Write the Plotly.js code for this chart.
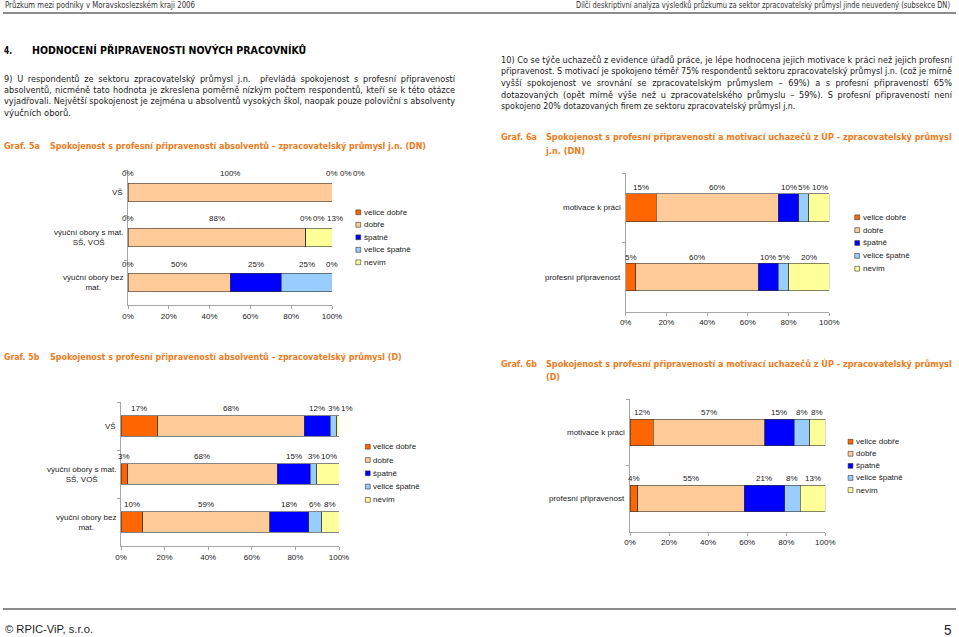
<!DOCTYPE html>
<html><head><meta charset="utf-8">
<script src="https://cdn.plot.ly/plotly-3.0.1.min.js"></script>
<style>
html,body{margin:0;padding:0;background:#fff;width:959px;height:637px;overflow:hidden;}
#chart{position:absolute;left:0;top:0;width:959px;height:637px;}
.ln{position:absolute;white-space:pre;transform-origin:0 50%;font-family:"DejaVu Sans",Verdana,sans-serif;color:#1a1a1a;z-index:2;}
.rule{position:absolute;left:3px;width:953px;height:2px;background:#8c8c8c;z-index:2;}
</style></head><body>
<div id="chart"></div>
<div class="rule" style="top:12px"></div>
<div class="rule" style="top:608px"></div>
<script>
// ---------- DATA ----------
const seriesNames = ['velice dobře','dobře','špatně','velice špatně','nevím'];
const seriesColors = ['#FF6600','#FFCC99','#0000FF','#99CCFF','#FFFF99'];
const catsSchool = ['VŠ','výuční obory s mat.<br>SŠ, VOŠ','výuční obory bez<br>mat.'];
const catsUP = ['motivace k práci','profesní připravenost'];
// rows = series (velice dobře, dobře, špatně, velice špatně, nevím), columns = categories
const g5a_values = [[0,0,0],[100,88,50],[0,0,25],[0,0,25],[0,13,0]];
const g5b_values = [[17,3,10],[68,68,59],[12,15,18],[3,3,6],[1,10,8]];
const g6a_values = [[15,5],[60,60],[10,10],[5,5],[10,20]];
const g6b_values = [[12,4],[57,55],[15,21],[8,8],[8,13]];
const xTickVals = [0,20,40,60,80,100];
const xTickText = ['0%','20%','40%','60%','80%','100%'];

// ---------- LAYOUT ----------
const W=959,H=637;
const FONT='"Liberation Sans", Arial, sans-serif';
const charts=[
 {vals:g5a_values,cats:catsSchool,px:[128,332],py:[170,305],bw:0.42,lbl:18.5,leg:{x:358.3,y:212.3,dy:12.5}},
 {vals:g5b_values,cats:catsSchool,px:[121,339],py:[402,546],bw:0.42,lbl:18,leg:{x:367.8,y:446.7,dy:13.3}},
 {vals:g6a_values,cats:catsUP,px:[625.7,829.3],py:[173,311.7],bw:0.40,lbl:20,leg:{x:857.2,y:217.3,dy:12.85}},
 {vals:g6b_values,cats:catsUP,px:[630,825.3],py:[399.3,531.7],bw:0.40,lbl:19.7,leg:{x:850.5,y:441.7,dy:12.08}}
];
const traces=[];
const layout={width:W,height:H,margin:{l:0,r:0,t:0,b:0},paper_bgcolor:'rgba(0,0,0,0)',plot_bgcolor:'rgba(0,0,0,0)',
  barmode:'stack',barnorm:'percent',showlegend:false,hovermode:false,annotations:[],shapes:[]};
function txtW(t){let w=0;for(const ch of t){w+= ch==='%'?0.889:0.556;}return w*8;}
charts.forEach((c,k)=>{
  const suf=k===0?'':String(k+1);
  const [px0,px1]=c.px,[py0,py1]=c.py;
  c.vals.forEach((row,si)=>{
    traces.push({type:'bar',orientation:'h',x:row,y:c.cats,name:seriesNames[si],xaxis:'x'+suf,yaxis:'y'+suf,
      width:c.bw,marker:{color:seriesColors[si],line:{color:'#333',width:0.6}},hoverinfo:'skip'});
  });
  layout['xaxis'+suf]={domain:[px0/W,px1/W],anchor:'y'+suf,range:[0,100],tickmode:'array',tickvals:xTickVals,ticktext:xTickText,
    showgrid:false,zeroline:false,showline:true,linecolor:'#a6a6a6',linewidth:1,ticks:'outside',ticklen:3,
    tickcolor:'#a6a6a6',tickfont:{family:FONT,size:8,color:'#222'},fixedrange:true};
  layout['yaxis'+suf]={domain:[1-py1/H,1-py0/H],anchor:'x'+suf,type:'category',categoryorder:'array',
    categoryarray:c.cats,range:[c.cats.length-0.5,-0.5],showticklabels:false,showline:true,linecolor:'#a6a6a6',
    ticks:'outside',tickson:'boundaries',ticklen:3,tickcolor:'#a6a6a6',showgrid:false,zeroline:false,fixedrange:true};
  // category labels
  c.cats.forEach(cat=>{
    layout.annotations.push({xref:'paper',yref:'y'+suf,x:(px0-3)/W,y:cat,text:cat,showarrow:false,
      xanchor:'right',yanchor:'middle',align:'center',font:{family:FONT,size:8,color:'#222'}});
  });
  // value labels above segments
  c.cats.forEach((cat,ci)=>{
    const raw=c.vals.map(r=>r[ci]);const tot=raw.reduce((a,b)=>a+b,0);
    let cum=0,prev=null;
    raw.forEach(v=>{
      const n=v/tot*100;const mid=cum+n/2;cum+=n;
      const t=v+'%';const w=txtW(t);
      let xp=px0+mid/100*(px1-px0);
      if(prev){const mn=prev.xp+(prev.w+w)/2+2;if(xp<mn)xp=mn;}
      prev={xp,w};
      layout.annotations.push({xref:'paper',yref:'y'+suf,x:xp/W,y:cat,text:t,showarrow:false,yshift:c.lbl,
        xanchor:'center',yanchor:'middle',font:{family:FONT,size:8,color:'#222'}});
    });
  });
  // legend
  seriesNames.forEach((nm,si)=>{
    const yc=c.leg.y+si*c.leg.dy;
    layout.shapes.push({type:'rect',xref:'paper',yref:'paper',x0:(c.leg.x-2.4)/W,x1:(c.leg.x+2.4)/W,
      y0:1-(yc+2.4)/H,y1:1-(yc-2.4)/H,fillcolor:seriesColors[si],line:{color:'#333',width:0.6}});
    layout.annotations.push({xref:'paper',yref:'paper',x:(c.leg.x+3.5)/W,y:1-yc/H,text:nm,showarrow:false,
      xanchor:'left',yanchor:'middle',font:{family:FONT,size:8,color:'#222'}});
  });
});
Plotly.newPlot('chart',traces,layout,{staticPlot:true,displayModeBar:false});

// ---------- PAGE TEXT ----------
const ORANGE='#EE7B21';
const styles={
 hdr:{fs:8.5,w:'normal',c:'#333'},
 h1:{fs:11,w:'bold',c:'#000'},
 p:{fs:9.3,w:'normal',c:'#1a1a1a'},
 g:{fs:9.4,w:'bold',c:ORANGE},
 ft:{fs:10,w:'normal',c:'#222',f:'"Liberation Sans Narrow","Liberation Sans",sans-serif'},
 pg:{fs:15,w:'normal',c:'#222',f:'"Liberation Sans Narrow","Liberation Sans",sans-serif'}
};
const lines=[
 ['Průzkum mezi podniky v Moravskoslezském kraji 2006',5,5.5,190,'fit','hdr'],
 ['Dílčí deskriptivní analýza výsledků průzkumu za sektor zpracovatelský průmysl jinde neuvedený (subsekce DN)',576,5.5,374,'fit','hdr'],
 ['4.',4,50.5,8,'fit','h1'],
 ['HODNOCENÍ PŘIPRAVENOSTI NOVÝCH PRACOVNÍKŮ',31.7,50.5,274.3,'fit','h1'],
 ['9) U respondentů ze sektoru zpracovatelský průmysl j.n.  převládá spokojenost s profesní připraveností',4,78.5,451,'just','p'],
 ['absolventů, nicméně tato hodnota je zkreslena poměrně nízkým počtem respondentů, kteří se k této otázce',4,90,451,'just','p'],
 ['vyjadřovali. Největší spokojenost je zejména u absolventů vysokých škol, naopak pouze poloviční s absolventy',4,101.3,451,'just','p'],
 ['výučních oborů.',4,112.7,67,'fit','p'],
 ['Graf. 5a',4,146,36,'fit','g'],
 ['Spokojenost s profesní připraveností absolventů – zpracovatelský průmysl j.n. (DN)',50,146,376,'fit','g'],
 ['10) Co se týče uchazečů z evidence úřadů práce, je lépe hodnocena jejich motivace k práci než jejich profesní',500.7,59.5,451,'just','p'],
 ['připravenost. S motivací je spokojeno téměř 75% respondentů sektoru zpracovatelský průmysl j.n. (což je mírně',500.7,71.2,451,'just','p'],
 ['vyšší spokojenost ve srovnání se zpracovatelským průmyslem – 69%) a s profesní připraveností 65%',500.7,82.9,451,'just','p'],
 ['dotazovaných (opět mírně výše než u zpracovatelského průmyslu – 59%). S profesní připraveností není',500.7,94.6,451,'just','p'],
 ['spokojeno 20% dotazovaných firem ze sektoru zpracovatelský průmysl j.n.',500.7,106.3,294.3,'fit','p'],
 ['Graf. 6a',500.7,137,36,'fit','g'],
 ['Spokojenost s profesní připraveností a motivací uchazečů z ÚP - zpracovatelský průmysl',546,137,405.7,'just','g'],
 ['j.n. (DN)',546,150.5,39,'fit','g'],
 ['Graf. 5b',4,356.7,35.3,'fit','g'],
 ['Spokojenost s profesní připraveností absolventů – zpracovatelský průmysl (D)',50,356.7,351.7,'fit','g'],
 ['Graf. 6b',500.7,364,36,'fit','g'],
 ['Spokojenost s profesní připraveností a motivací uchazečů z ÚP - zpracovatelský průmysl',546,364,405.7,'just','g'],
 ['(D)',546,377.3,14,'fit','g'],
 ['© RPIC-ViP, s.r.o.',5,630.5,88,'fit','ft'],
 ['5',944,630.5,7.5,'fit','pg']
];
const C=0.88;
lines.forEach(([t,x,y,w,mode,st])=>{
  const s=styles[st];
  const el=document.createElement('div');
  el.className='ln';el.textContent=t;
  const lh=s.fs*1.25;
  el.style.fontSize=s.fs+'px';el.style.fontWeight=s.w;el.style.color=s.c;el.style.lineHeight=lh+'px';
  if(s.f)el.style.fontFamily=s.f;
  el.style.left=x+'px';el.style.top=(y-lh/2)+'px';
  document.body.appendChild(el);
  const nat=el.getBoundingClientRect().width;
  let sc;
  if(mode==='just'){
    const sp=(t.match(/ /g)||[]).length;
    if(nat*C<w&&sp){sc=C;el.style.wordSpacing=((w/C-nat)/sp)+'px';}
    else sc=w/nat;
  } else sc=w/nat;
  el.style.transform='scaleX('+sc+')';
});
</script>
</body></html>
